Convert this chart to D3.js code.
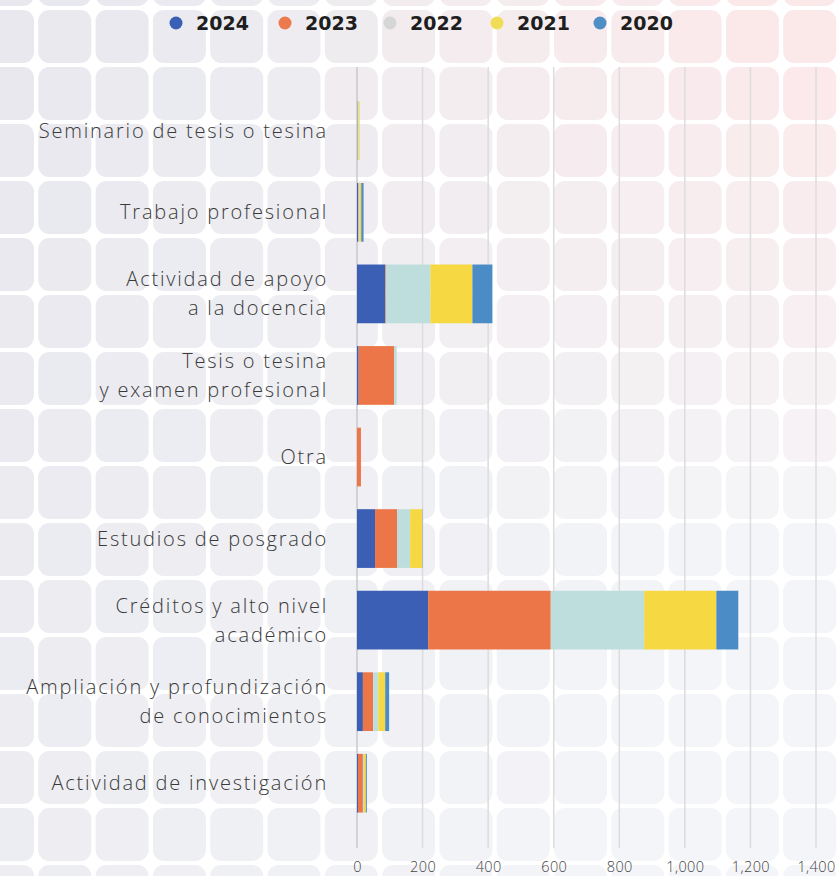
<!DOCTYPE html>
<html>
<head>
<meta charset="utf-8">
<script src="https://cdn.jsdelivr.net/npm/d3@7"></script>
<style>
  body { margin: 0; background: #fff; }
  svg { display: block; }
</style>
</head>
<body>
<div id="chart"></div>
<script>
// Data
const categories = [
  'Seminario de tesis o tesina',
  'Trabajo profesional',
  'Actividad de apoyo\na la docencia',
  'Tesis o tesina\ny examen profesional',
  'Otra',
  'Estudios de posgrado',
  'Créditos y alto nivel\nacadémico',
  'Ampliación y profundización\nde conocimientos',
  'Actividad de investigación'
];
const years = ['2024', '2023', '2022', '2021', '2020'];
const v2024 = [1, 3, 86, 5, 0, 55, 217, 18, 3];
const v2023 = [1, 2, 2, 108, 12, 67, 374, 31, 15];
const v2022 = [3, 3, 136, 8, 0, 40, 285, 16, 3];
const v2021 = [3, 5, 128, 0, 0, 37, 220, 21, 6];
const v2020 = [0, 7, 61, 0, 0, 1, 67, 12, 3];
const xTicks = [0, 200, 400, 600, 800, 1000, 1200, 1400];

const width = 837, height = 876;
const colors = { '2024': '#3b5fb4', '2023': '#ec7647', '2022': '#bddedc', '2021': '#f5d842', '2020': '#4b8bc6' };
const legendColors = { '2024': '#3b5fb4', '2023': '#ec7a4e', '2022': '#d6d6d6', '2021': '#f0dc55', '2020': '#4f8fc6' };

// build table for the stack
const series = { '2024': v2024, '2023': v2023, '2022': v2022, '2021': v2021, '2020': v2020 };
const table = categories.map((c, i) => {
  let row = { cat: c };
  years.forEach(y => row[y] = series[y][i]);
  return row;
});

let svg = d3.select('#chart')
  .append('svg')
  .attr('width', width)
  .attr('height', height);

// background of rounded tiles
const tile = 53, pitchX = 57.3, pitchY = 57;
let tiles = [];
for (let r = -1; r < 16; r++) {
  for (let c = -1; c < 15; c++) {
    tiles.push({ x: -19 + c * pitchX, y: 10 + r * pitchY });
  }
}
svg.append('g')
  .selectAll('rect')
  .data(tiles)
  .enter()
  .append('rect')
  .attr('x', d => d.x)
  .attr('y', d => d.y)
  .attr('width', tile)
  .attr('height', tile)
  .attr('rx', 11)
  .attr('fill', d => {
    let tx = Math.max(0, Math.min(1, d.x / width));
    let ty = Math.max(0, Math.min(1, d.y / height));
    let warm = Math.max(0, tx - 0.25) * 1.6 * Math.max(0, 1 - ty * 1.7);
    let base = d3.interpolateRgb('#e8e8ee', '#f4f5f8')(Math.min(1, tx * 0.9 + ty * 0.4));
    return d3.interpolateRgb(base, '#fbe9ea')(Math.min(1, warm));
  });

// scales
let xscale = d3.scaleLinear()
  .domain([0, 1400])
  .range([357, 816]);

let yscale = d3.scaleBand()
  .domain(categories)
  .range([90, 824])
  .paddingInner(0.28)
  .paddingOuter(0.14);

// vertical grid lines
svg.append('g')
  .selectAll('line')
  .data(xTicks)
  .enter()
  .append('line')
  .attr('x1', d => xscale(d))
  .attr('x2', d => xscale(d))
  .attr('y1', 67)
  .attr('y2', 848)
  .attr('stroke', d => d === 0 ? '#c8c8cc' : '#dcdcdf')
  .attr('stroke-width', 1.5);

// stacked bars
let stack = d3.stack().keys(years)(table);

svg.append('g')
  .selectAll('g')
  .data(stack)
  .enter()
  .append('g')
  .attr('fill', d => colors[d.key])
  .selectAll('rect')
  .data(d => d)
  .enter()
  .append('rect')
  .attr('x', d => xscale(d[0]))
  .attr('y', d => yscale(d.data.cat))
  .attr('width', d => xscale(d[1]) - xscale(d[0]))
  .attr('height', yscale.bandwidth());

// x axis labels
let xaxis = svg.append('g')
  .attr('transform', 'translate(0, 848)')
  .call(d3.axisBottom(xscale).tickValues(xTicks).tickSize(0).tickPadding(14).tickFormat(d3.format(',')));
xaxis.select('.domain').remove();
xaxis.selectAll('text')
  .style('font-family', '"Open Sans", sans-serif')
  .style('font-weight', 300)
  .style('font-size', '14.5px')
  .style('letter-spacing', '0.4px')
  .attr('fill', '#444');

// category labels
let labels = svg.append('g')
  .selectAll('text')
  .data(categories)
  .enter()
  .append('text')
  .attr('x', 328)
  .attr('y', d => yscale(d) + yscale.bandwidth() / 2)
  .attr('text-anchor', 'end')
  .style('font-family', '"Open Sans", sans-serif')
  .style('font-weight', 300)
  .style('font-size', '20px')
  .style('letter-spacing', '1.8px')
  .attr('fill', '#3a3a3a');

labels.each(function(d) {
  let lines = d.split('\n');
  let el = d3.select(this);
  lines.forEach((t, i) => {
    el.append('tspan')
      .attr('x', 328)
      .attr('dy', i === 0 ? (-(lines.length - 1) * 14.5 + 7) + 'px' : '29px')
      .text(t);
  });
});

// legend
const legendX = [176, 285, 390, 497, 600];
let legend = svg.selectAll('.legend')
  .data(years)
  .enter()
  .append('g')
  .attr('class', 'legend')
  .attr('transform', (d, i) => `translate(${legendX[i]}, 23)`);

legend.append('circle')
  .attr('r', 6.5)
  .attr('fill', d => legendColors[d]);

legend.append('text')
  .attr('x', 20)
  .attr('y', 7)
  .style('font-family', '"DejaVu Sans", sans-serif')
  .style('font-weight', 700)
  .style('font-size', '19px')
  .attr('fill', '#1e1e1e')
  .text(d => d);
</script>
</body>
</html>
